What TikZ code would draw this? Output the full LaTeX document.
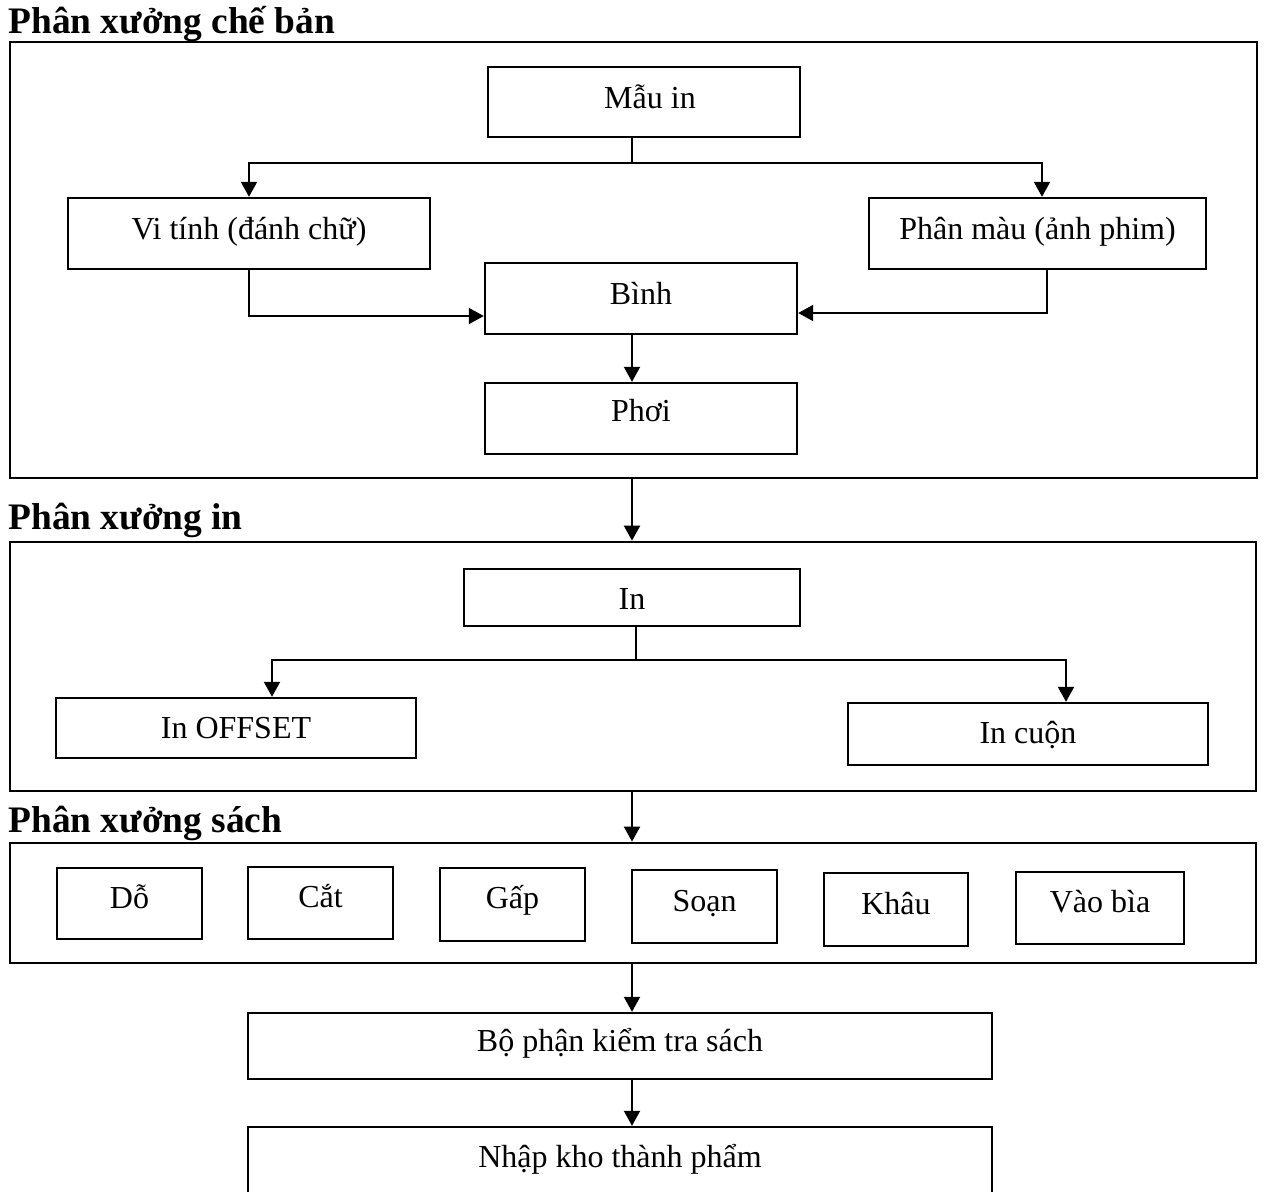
\documentclass[tikz,border=0pt]{standalone}
\usepackage{fontspec}
\setmainfont{Liberation Serif}
\usetikzlibrary{arrows.meta}
\begin{document}
\begin{tikzpicture}[x=0.5pt,y=-0.5pt,
  frame/.style={draw,line width=1.4pt,inner sep=0pt},
  box/.style={draw,line width=1.2pt,inner sep=0pt,text height=12pt,
    font=\fontsize{16}{19}\selectfont},
  head/.style={anchor=base west,inner sep=0pt,
    font=\fontsize{18.7}{22}\selectfont\bfseries},
  conn/.style={line width=1pt},
  thinconn/.style={line width=0.7pt},
  tip/.style={-{Triangle[length=7.5pt,width=8pt]}}
]
\clip (0,0) rectangle (1266,1191);
\fill[white] (0,0) rectangle (1266,1191);

% workshop frames and their headings
\node[frame,minimum width=623.5pt,minimum height=218pt] (f1) at (633.5,260) {};
\node[frame,minimum width=623pt,minimum height=124.5pt] (f2) at (633,666.5) {};
\node[frame,minimum width=623pt,minimum height=60pt] (f3) at (633,903) {};
\node[head] (h1) at (8,33) {Phân xưởng chế bản};
\node[head] (h2) at (8,529) {Phân xưởng in};
\node[head] (h3) at (8,832) {Phân xưởng sách};

% pre-press
\node[box,minimum width=156pt,minimum height=35pt,text depth=6pt] (mau) at (644,102) {\hspace*{6pt}Mẫu in};
\node[box,minimum width=181pt,minimum height=35.5pt,text depth=6.5pt] (vitinh) at (249,233.5) {Vi tính (đánh chữ)};
\node[box,minimum width=168.5pt,minimum height=35.5pt,text depth=6.5pt] (pm) at (1037.5,233.5) {Phân màu (ảnh phim)};
\node[box,minimum width=156pt,minimum height=35.5pt,text depth=6.5pt] (binh) at (641,298.5) {Bình};
\node[box,minimum width=156pt,minimum height=35.5pt,text depth=8.8pt] (phoi) at (641,418.5) {Phơi};

% printing
\node[box,minimum width=168pt,minimum height=28.5pt,text depth=0.5pt] (in) at (632,597.5) {In};
\node[box,minimum width=180pt,minimum height=30pt,text depth=2pt] (offset) at (236,728) {In OFFSET};
\node[box,minimum width=180pt,minimum height=31pt,text depth=3pt] (cuon) at (1028,734) {In cuộn};

% book binding
\node[box,minimum width=72.5pt,minimum height=35.5pt,text depth=7.5pt] (do) at (129.5,903.5) {Dỗ};
\node[box,minimum width=72.5pt,minimum height=36pt,text depth=8pt] (cat) at (320.5,903) {Cắt};
\node[box,minimum width=72.5pt,minimum height=36.5pt,text depth=8.5pt] (gap) at (512.5,904.5) {Gấp};
\node[box,minimum width=72.5pt,minimum height=36.5pt,text depth=7.5pt] (soan) at (704.5,906.5) {Soạn};
\node[box,minimum width=72pt,minimum height=36.5pt,text depth=7.5pt] (khau) at (896,909.5) {Khâu};
\node[box,minimum width=84pt,minimum height=36pt,text depth=8pt] (vaobia) at (1100,908) {Vào bìa};

% inspection and storage
\node[box,minimum width=372pt,minimum height=33pt,text depth=6.3pt] (bpkt) at (620,1046) {Bộ phận kiểm tra sách};
\node[box,minimum width=372pt,minimum height=33pt,text depth=5pt] (nhap) at (620,1160) {Nhập kho thành phẩm};

% helper coordinates for connector positions
\coordinate (cx) at (632,0);
\coordinate (j1) at (632,163);
\coordinate (x1042) at (1042,0);
\coordinate (j2) at (249,316);
\coordinate (j3) at (1047,313);
\coordinate (j4) at (636,660);
\coordinate (x272) at (272,0);
\coordinate (x1066) at (1066,0);

% connectors
\draw[conn] (mau.south -| cx) -- (j1);
\draw[conn,tip] (j1) -| (vitinh.north);
\draw[conn,tip] (j1) -| (pm.north -| x1042);
\draw[thinconn,tip] (vitinh.south) -- (j2) -- (binh.west |- j2);
\draw[conn,tip] (pm.south -| j3) -- (j3) -- (binh.east |- j3);
\draw[conn,tip] (binh.south -| cx) -- (phoi.north -| cx);
\draw[conn,tip] (f1.south -| cx) -- (f2.north -| cx);

\draw[conn] (in.south -| j4) -- (j4);
\draw[conn,tip] (j4) -| (offset.north -| x272);
\draw[conn,tip] (j4) -| (cuon.north -| x1066);
\draw[conn,tip] (f2.south -| cx) -- (f3.north -| cx);

\draw[conn,tip] (f3.south -| cx) -- (bpkt.north -| cx);
\draw[conn,tip] (bpkt.south -| cx) -- (nhap.north -| cx);
\end{tikzpicture}
\end{document}
